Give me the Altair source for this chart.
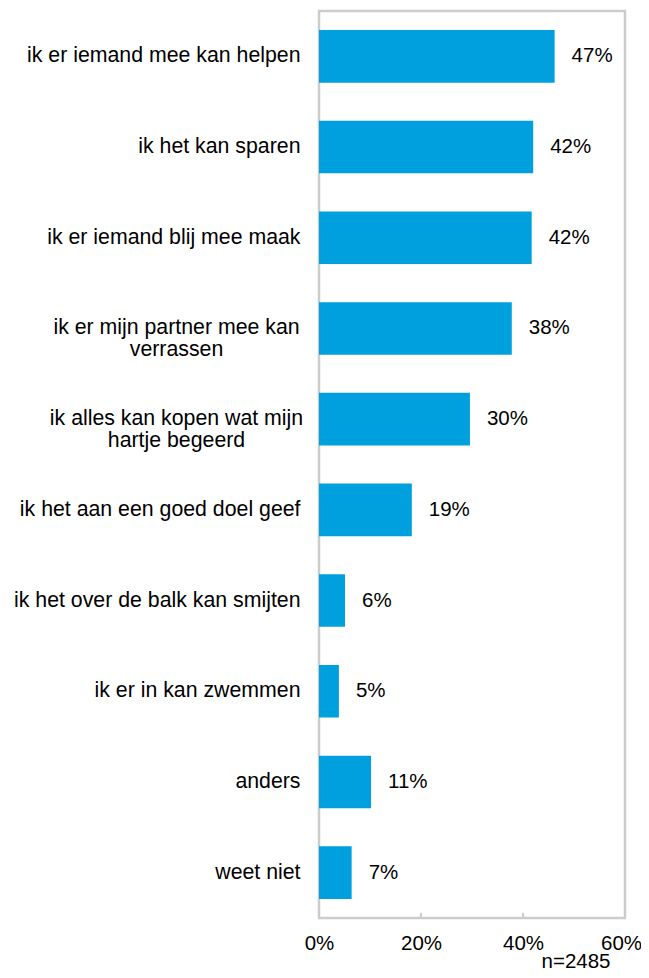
import altair as alt
import pandas as pd

categories = [
    "ik er iemand mee kan helpen",
    "ik het kan sparen",
    "ik er iemand blij mee maak",
    "ik er mijn partner mee kan|verrassen",
    "ik alles kan kopen wat mijn|hartje begeerd",
    "ik het aan een goed doel geef",
    "ik het over de balk kan smijten",
    "ik er in kan zwemmen",
    "anders",
    "weet niet",
]
values = [46.2, 42.0, 41.7, 37.8, 29.6, 18.2, 5.1, 3.9, 10.2, 6.4]
labels = ["47%", "42%", "42%", "38%", "30%", "19%", "6%", "5%", "11%", "7%"]
x_ticks = [0, 20, 40, 60]
inner_ticks = [20, 40]
n_note = "n=2485"

df = pd.DataFrame({"cat": categories, "val": values, "lab": labels})
ticks_df = pd.DataFrame({"t": inner_ticks})

FONT = "Liberation Sans"
FS = 20.5
FS_CAT = 21.3
BLUE = "#00A0DF"
GRAY = "#cccccc"

x_scale = alt.Scale(domain=[0, 60], nice=False)
y_scale = alt.Scale(paddingInner=0.42, paddingOuter=0.21)

bars = alt.Chart(df).mark_bar(color=BLUE).encode(
    y=alt.Y(
        "cat:N",
        sort=categories,
        scale=y_scale,
        axis=alt.Axis(
            title=None,
            domain=False,
            ticks=False,
            tickSize=0,
            labelExpr="split(datum.label, '|')",
            labelFont=FONT,
            labelFontSize=FS_CAT,
            labelColor="#000000",
            labelLineHeight=22,
            labelLimit=400,
            labelAlign=alt.ConditionalAxisLabelAlign(
                condition={"test": "indexof(datum.value, '|') >= 0", "value": "center"},
                value="right",
            ),
            labelPadding=alt.ConditionalAxisNumber(
                condition={"test": "indexof(datum.value, '|') >= 0", "value": 143},
                value=19,
            ),
        ),
    ),
    x=alt.X(
        "val:Q",
        scale=x_scale,
        axis=alt.Axis(
            values=x_ticks,
            format=".0f",
            labelExpr="datum.label + '%'",
            title=n_note,
            titleFont=FONT,
            titleFontSize=FS,
            titleFontWeight="normal",
            titleColor="#000000",
            titleAlign="right",
            titleBaseline="alphabetic",
            titleX=291,
            titleY=49,
            domain=False,
            ticks=False,
            tickSize=0,
            grid=False,
            labelFont=FONT,
            labelFontSize=FS,
            labelColor="#000000",
            labelPadding=15,
            labelFlush=False,
            labelOffset=alt.ConditionalAxisNumber(
                condition={"test": "datum.value >= 60", "value": -4},
                value=0,
            ),
        ),
    ),
)

text = alt.Chart(df).mark_text(
    align="left", baseline="middle", dx=17, font=FONT, fontSize=FS, color="#000000"
).encode(
    y=alt.Y("cat:N", sort=categories, scale=y_scale),
    x=alt.X("val:Q", scale=x_scale),
    text="lab:N",
)

tick_marks = alt.Chart(ticks_df).mark_rule(color=GRAY, strokeWidth=2).encode(
    x=alt.X("t:Q", scale=x_scale),
    y=alt.value(902),
    y2=alt.value(907),
)

chart = (
    alt.layer(bars, text, tick_marks)
    .properties(
        width=306,
        height=907,
        autosize=alt.AutoSizeParams(type="none"),
        padding={"left": 311, "top": 3, "right": 16, "bottom": 55},
    )
    .configure_view(stroke=GRAY, strokeWidth=2.5)
)

chart.save("out.html", embed_options={"renderer": "svg", "actions": False})
